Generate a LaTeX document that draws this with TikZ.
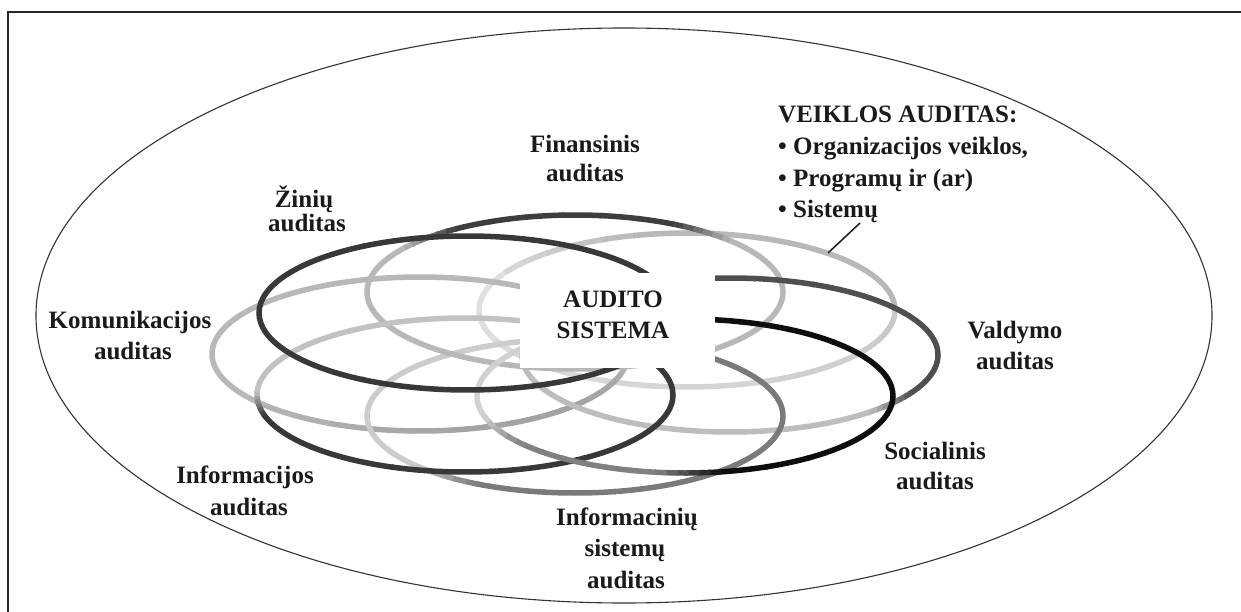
\documentclass[tikz,border=0pt]{standalone}
\usepackage{fontspec}
\setmainfont{Liberation Serif}
\pgfdeclarelayer{bg}
\pgfdeclarelayer{lo}
\pgfsetlayers{bg,lo,main}
\definecolor{ink}{HTML}{1A1A1A}
\tikzset{
  ringline/.style={line width=5.5pt},
  lbl/.style={font=\fontsize{25}{30}\selectfont\bfseries, text=ink, inner sep=0pt, anchor=base},
  frameline/.style={draw=black!85, line width=1.4pt},
  outerline/.style={draw=black!80, line width=1.1pt},
  leader/.style={draw=ink, line width=1.5pt},
  boxstyle/.style={fill=white, draw=none, inner sep=0pt, minimum width=195pt, minimum height=95pt}
}
\newcommand\ringdraw[3]{%
  \foreach \ta/\pa/\tb/\pb in {#3}{%
    \foreach \k in {0,...,5}{%
      \pgfmathsetmacro\sa{\ta+(\tb-\ta)*\k/6}%
      \pgfmathsetmacro\sb{\ta+(\tb-\ta)*(\k+1)/6+0.6}%
      \pgfmathtruncatemacro\pp{\pa+(\pb-\pa)*(\k+0.5)/6}%
      \ifnum\pp<40\relax
        \begin{pgfonlayer}{lo}\draw[ringline,black!\pp] (#1,#2) ++(\sa:208pt and 77pt) arc[start angle=\sa,end angle=\sb,x radius=208pt,y radius=77pt];\end{pgfonlayer}%
      \else
        \draw[ringline,black!\pp] (#1,#2) ++(\sa:208pt and 77pt) arc[start angle=\sa,end angle=\sb,x radius=208pt,y radius=77pt];%
      \fi
    }%
  }%
}
\begin{document}
\begin{tikzpicture}[x=1pt,y=1pt,yscale=-1]
\useasboundingbox (0,0) rectangle (1241,612);
\begin{pgfonlayer}{bg}
\fill[white] (0,0) rectangle (1241,612);
\end{pgfonlayer}
% frame (only left and top edges visible)
\draw[frameline] (8,612) -- (8,12) -- (1241,12);
% outer ellipse
\draw[outerline] (624,315.5) ellipse [x radius=588pt, y radius=287.5pt];
% rings
\ringdraw{687}{310}{0/22/70/18, 70/18/200/12, 200/12/255/28, 255/28/360/28}
\ringdraw{420}{354}{0/28/30/36, 30/36/80/36, 80/36/150/28, 150/28/360/28}
\ringdraw{575}{416}{0/52/118/52, 118/52/140/20, 140/20/280/20, 280/52/360/52}
\ringdraw{730}{355}{0/69/30/69, 30/69/48/26, 48/26/260/26, 260/69/360/69}
\ringdraw{575}{292}{0/28/215/28, 215/28/235/76, 235/76/298/76, 298/76/318/28, 318/28/360/28}
\ringdraw{465}{395}{0/78/165/78, 165/78/182/24, 182/24/320/24, 320/24/338/78, 338/78/360/78}
\ringdraw{467}{313}{0/78/360/78}
\ringdraw{685}{396}{0/95/80/95, 80/95/98/50, 98/50/140/50, 140/50/165/18, 165/18/270/18, 270/95/360/95}
% central white box
\node[boxstyle] (box) at (617.5,320.5) {};
\node[lbl] (aud1) at (613,307) {AUDITO};
\node[lbl] (aud2) at (613,338) {SISTEMA};
% labels
\node[lbl] (fin1) at (585,153) {Finansinis};
\node[lbl] (fin2) at (585,182) {auditas};
\node[lbl] (zin1) at (304,208) {Žinių};
\node[lbl] (zin2) at (307,232) {auditas};
\node[lbl] (kom1) at (130,328) {Komunikacijos};
\node[lbl] (kom2) at (133,359) {auditas};
\node[lbl] (inf1) at (245,483) {Informacijos};
\node[lbl] (inf2) at (249,515) {auditas};
\node[lbl] (is1) at (627,525) {Informacinių};
\node[lbl] (is2) at (625,556) {sistemų};
\node[lbl] (is3) at (626,588) {auditas};
\node[lbl] (soc1) at (935,459) {Socialinis};
\node[lbl] (soc2) at (935,489) {auditas};
\node[lbl] (val1) at (1015,338) {Valdymo};
\node[lbl] (val2) at (1015,369) {auditas};
\node[lbl,anchor=base west] (vk0) at (778,123) {VEIKLOS AUDITAS:};
\node[lbl,anchor=base west] (vk1) at (778,155) {• Organizacijos veiklos,};
\node[lbl,anchor=base west] (vk2) at (778,187) {• Programų ir (ar)};
\node[lbl,anchor=base west] (vk3) at (778,218) {• Sistemų};
% leader from the list to the Veiklos ring
\coordinate (ldA) at (860,223);
\coordinate (ldB) at (828,253);
\draw[leader] (ldA) -- (ldB);
\end{tikzpicture}
\end{document}
